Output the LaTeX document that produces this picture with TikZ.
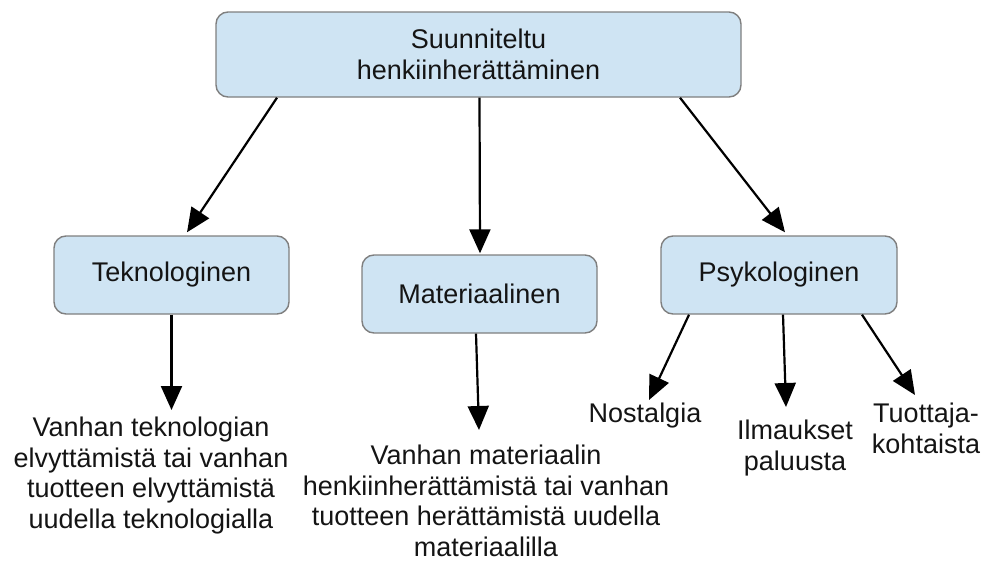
\documentclass[tikz,border=0pt]{standalone}
\usepackage{fontspec}
\setmainfont{Liberation Sans}
\usetikzlibrary{arrows.meta}
\definecolor{boxfill}{HTML}{CFE4F3}
\definecolor{boxline}{HTML}{7F7F7F}
\definecolor{inktext}{HTML}{141414}
\tikzset{
  every node/.style={font=\fontsize{27}{30.5}\selectfont, text=inktext},
  catbox/.style={draw=boxline, line width=1.4pt, fill=boxfill, rounded corners=12pt,
                 align=center, inner sep=0pt},
  leaf/.style={align=center, inner sep=0pt, anchor=north},
  conn/.style={draw=black, line width=2.2pt, -{Triangle[length=24pt,width=21pt]}}
}
\begin{document}
\begin{tikzpicture}[x=1pt, y=-1pt]
  \useasboundingbox (0,0) rectangle (987,562);

  % category boxes
  \node[catbox, minimum width=525pt, minimum height=85pt] (top) at (478.5,54.5)
    {Suunniteltu\\henkiinherättäminen};
  \node[catbox, minimum width=235pt, minimum height=78pt] (tek) at (171.5,275) {Teknologinen};
  \node[catbox, minimum width=235pt, minimum height=78pt] (mat) at (479.5,294) {Materiaalinen};
  \node[catbox, minimum width=236pt, minimum height=78pt] (psy) at (779,275) {Psykologinen};

  % leaf texts
  \node[leaf] (tektext) at (151,417)
    {Vanhan teknologian\\elvyttämistä tai vanhan\\tuotteen elvyttämistä\\uudella teknologialla};
  \node[leaf] (mattext) at (486,445)
    {Vanhan materiaalin\\henkiinherättämistä tai vanhan\\tuotteen herättämistä uudella\\materiaalilla};
  \node[leaf] (nost) at (645,403) {Nostalgia};
  \node[leaf] (ilm) at (795,420) {Ilmaukset\\paluusta};
  \node[leaf] (tuo) at (926,403) {Tuottaja-\\kohtaista};

  % connectors from the main box
  \draw[conn] ([xshift=-201.5pt]top.south) -- ([xshift=15.5pt,yshift=3pt]tek.north);
  \draw[conn] ([xshift=1pt]top.south) -- ([xshift=0.5pt,yshift=1pt]mat.north);
  \draw[conn] ([xshift=201.5pt]top.south) -- ([xshift=6pt,yshift=3pt]psy.north);

  % connectors to the leaf texts
  \draw[conn] (tek.south) -- ([yshift=7pt]tektext.north -| tek.south);
  \draw[conn] ([xshift=-3.5pt]mat.south) -- ([xshift=-7pt,yshift=15pt]mattext.north);
  \draw[conn] ([xshift=-90pt]psy.south) -- ([xshift=4pt,yshift=3pt]nost.north);
  \draw[conn] ([xshift=4pt]psy.south) -- ([xshift=-9pt,yshift=13pt]ilm.north);
  \draw[conn] ([xshift=83pt]psy.south) -- ([xshift=-11pt,yshift=8pt]tuo.north);
\end{tikzpicture}
\end{document}
